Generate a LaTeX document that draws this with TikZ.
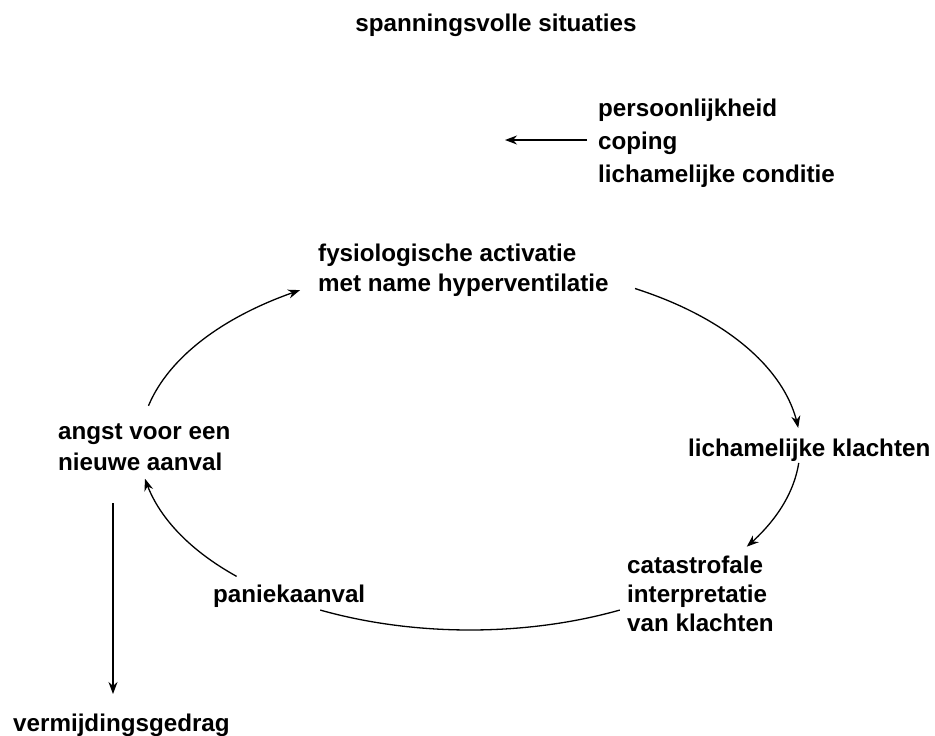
\documentclass[tikz,border=0pt]{standalone}
\usepackage{fontspec}
\setmainfont{Liberation Sans}
\usetikzlibrary{arrows.meta}
\begin{document}
\begin{tikzpicture}[x=1pt,y=-1pt,
  lbl/.style={font=\bfseries\fontsize{24.2}{30}\selectfont, inner sep=0pt, align=left, anchor=west},
  arr/.style={line width=1.3pt, -{Stealth[length=12pt,width=9pt]}},
  ln/.style={line width=1.3pt}]
\useasboundingbox[fill=white] (0,0) rectangle (935,736);
\node[lbl, anchor=center] (title) at (496,25) {spanningsvolle situaties};
\node[lbl, font=\bfseries\fontsize{24.2}{33}\selectfont] (pers) at (598,143) {persoonlijkheid\\coping\\lichamelijke conditie};
\node[lbl] (fysio) at (318,270) {fysiologische activatie\\met name hyperventilatie};
\node[lbl] (klacht) at (688,450) {lichamelijke klachten};
\node[lbl, font=\bfseries\fontsize{24.2}{29}\selectfont] (cata) at (627,594) {catastrofale\\interpretatie\\van klachten};
\node[lbl] (paniek) at (213,596) {paniekaanval};
\node[lbl, font=\bfseries\fontsize{24.2}{31}\selectfont] (angst) at (58,447) {angst voor een\\nieuwe aanval};
\node[lbl] (verm) at (13,725) {vermijdingsgedrag};
% influence arrow
\coordinate (pfrom) at (587,140);
\coordinate (pto) at (505,140);
\draw[arr] (pfrom) -- (pto);
% cycle (arcs of one ellipse)
\draw[arr] plot[domain=167:121, samples=50, smooth] ({470+330*cos(\x)}, {447-183*sin(\x)});
\draw[arr] plot[domain=60:6, samples=50, smooth] ({470+330*cos(\x)}, {447-183*sin(\x)});
\draw[arr] plot[domain=-5:-33, samples=40, smooth] ({470+330*cos(\x)}, {447-183*sin(\x)});
\draw[ln] plot[domain=-63:-117, samples=60, smooth] ({470+330*cos(\x)}, {447-183*sin(\x)});
\draw[arr] plot[domain=-135:-170, samples=40, smooth] ({470+330*cos(\x)}, {447-183*sin(\x)});
% avoidance
\coordinate (vtop) at (113,503);
\draw[arr] (vtop) -- (113,694);
\end{tikzpicture}
\end{document}
